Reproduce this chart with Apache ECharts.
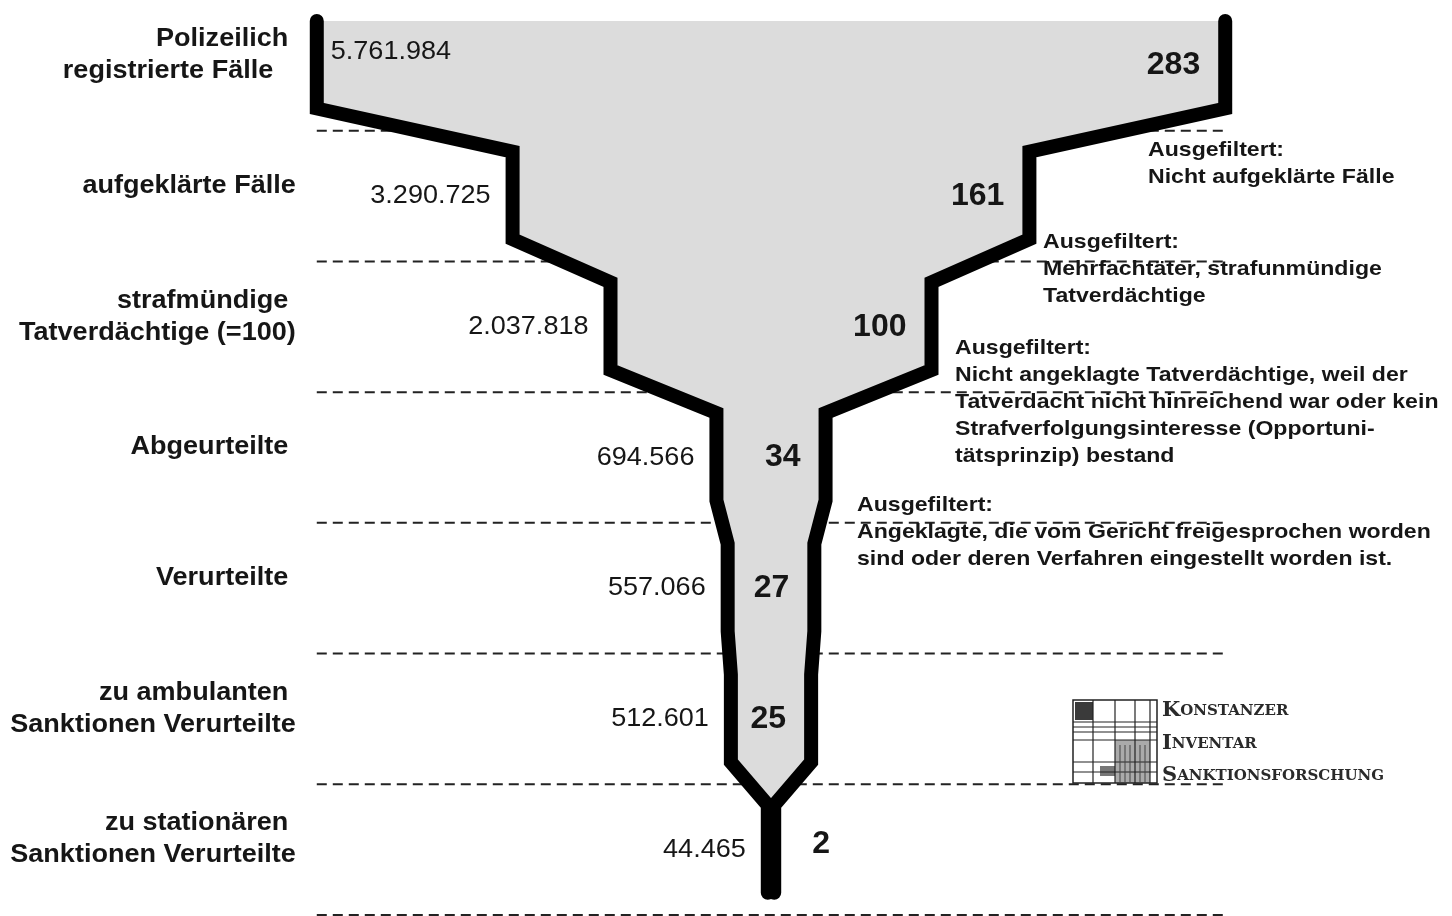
<!DOCTYPE html>
<html lang="de">
<head>
<meta charset="UTF-8">
<title>Trichter der Strafverfolgung</title>
<style>
  html, body { margin: 0; padding: 0; background: #fff; }
  #main { width: 1452px; height: 916px; }
</style>
</head>
<body>
<div id="main"></div>
<script src="https://cdn.jsdelivr.net/npm/echarts@6/dist/echarts.min.js"></script>
<script>
// Stufen des Trichters (von oben nach unten)
var stufen = [
  'Polizeilich \nregistrierte Fälle   ',
  'aufgeklärte Fälle',
  'strafmündige \nTatverdächtige (=100)',
  'Abgeurteilte ',
  'Verurteilte ',
  'zu ambulanten \nSanktionen Verurteilte',
  'zu stationären \nSanktionen Verurteilte'
];
// absolute Zahlen
var absolut = ['5.761.984', '3.290.725', '2.037.818', '694.566', '557.066', '512.601', '44.465'];
// Index (strafmündige Tatverdächtige = 100)
var indexWerte = [283, 161, 100, 34, 27, 25, 2];
// Texte rechts neben den Übergängen
var ausgefiltert = [
  'Nicht aufgeklärte Fälle',
  'Mehrfachtäter, strafunmündige\nTatverdächtige',
  'Nicht angeklagte Tatverdächtige, weil der\nTatverdacht nicht hinreichend war oder kein\nStrafverfolgungsinteresse (Opportuni-\ntätsprinzip) bestand',
  'Angeklagte, die vom Gericht freigesprochen worden\nsind oder deren Verfahren eingestellt worden ist.'
];

var OBEN = 0.16, UNTEN = 0.83;   // Anteil der Stufe, in dem die Wand senkrecht läuft
var schrift = '"Liberation Sans", Arial, sans-serif';
var textFarbe = '#161616';

var chart = echarts.init(document.getElementById('main'));

function trichter(params, api) {
  var links = [], rechts = [];
  for (var i = 0; i < indexWerte.length; i++) {
    var v = indexWerte[i];
    links.push(api.coord([-v, i + OBEN]), api.coord([-v, i + UNTEN]));
    rechts.push(api.coord([v, i + OBEN]), api.coord([v, i + UNTEN]));
  }
  var umriss = links.concat(rechts.slice().reverse());
  var wand = { stroke: '#000', lineWidth: 14, fill: null, lineJoin: 'miter', lineCap: 'round' };
  // zwei Wände statt einer geschlossenen Linie -> runde Enden oben und unten
  return {
    type: 'group',
    children: [
      { type: 'polygon', shape: { points: umriss }, style: { fill: '#dcdcdc' }, z2: 1 },
      { type: 'polyline', shape: { points: links }, style: wand, z2: 2 },
      { type: 'polyline', shape: { points: rechts }, style: wand, z2: 2 }
    ]
  };
}

function trennlinie(params, api) {
  var b = params.dataIndex + 1;
  var a = api.coord([-indexWerte[0], b]);
  var e = api.coord([indexWerte[0], b]);
  return {
    type: 'line',
    shape: { x1: a[0], y1: a[1], x2: e[0], y2: e[1] },
    style: { stroke: '#222', lineWidth: 2, lineDash: [10, 6] }
  };
}

function beschriftung(params, api) {
  var i = params.dataIndex;
  var v = indexWerte[i];
  var rand = api.coord([-indexWerte[0], i + 0.42]);
  var li = api.coord([-v, i + 0.5]);
  var re = api.coord([v, i + (v < 10 ? 0.46 : 0.5)]);
  var kids = [];
  kids.push({
    type: 'text', x: rand[0] - 21, y: rand[1], scaleX: 1.04,
    style: { text: stufen[i], align: 'right', verticalAlign: 'middle', lineHeight: 32,
      font: 'bold 26px ' + schrift, fill: textFarbe }
  });
  if (i === 0) {
    var innen = api.coord([-v, i + 0.4]);
    kids.push({
      type: 'text', x: innen[0] + 14, y: innen[1], scaleX: 1.04,
      style: { text: absolut[i], align: 'left', verticalAlign: 'middle', font: '26px ' + schrift, fill: textFarbe }
    });
  } else {
    kids.push({
      type: 'text', x: li[0] - 22, y: li[1], scaleX: 1.04,
      style: { text: absolut[i], align: 'right', verticalAlign: 'middle', font: '26px ' + schrift, fill: textFarbe }
    });
  }
  kids.push({
    type: 'text', x: v < 10 ? re[0] + 38 : re[0] - 25, y: re[1],
    style: { text: String(v), align: v < 10 ? 'left' : 'right', verticalAlign: 'middle',
      font: 'bold 32px ' + schrift, fill: textFarbe }
  });
  return { type: 'group', children: kids };
}

// Textblöcke "Ausgefiltert"
var blockPos = [[1148, 137], [1043, 229], [955, 335], [857, 492]];
var graphics = ausgefiltert.map(function (t, k) {
  return {
    type: 'text', x: blockPos[k][0], y: blockPos[k][1], scaleX: 1.1, z: 5,
    style: { text: 'Ausgefiltert:\n' + t, fill: textFarbe, font: 'bold 21px ' + schrift,
      lineHeight: 27, verticalAlign: 'top', align: 'left' }
  };
});

// Logo
var logoKinder = [
  { type: 'rect', shape: { x: 2, y: 2, width: 18, height: 18 }, style: { fill: '#3a3a3a' } },
  { type: 'rect', shape: { x: 42, y: 40, width: 35, height: 43 }, style: { fill: '#aaa' } },
  { type: 'rect', shape: { x: 27, y: 66, width: 15, height: 10 }, style: { fill: '#777' } },
  { type: 'rect', shape: { x: 0, y: 0, width: 84, height: 83 }, style: { fill: null, stroke: '#222', lineWidth: 1.5 } }
];
[20, 42, 62, 77].forEach(function (x) {
  logoKinder.push({ type: 'line', shape: { x1: x, y1: 0, x2: x, y2: 83 }, style: { stroke: '#222', lineWidth: 1.2 } });
});
[22, 27, 32, 40, 62, 72].forEach(function (y) {
  logoKinder.push({ type: 'line', shape: { x1: 0, y1: y, x2: 84, y2: y }, style: { stroke: '#222', lineWidth: 1.2 } });
});
[47, 52, 57, 67, 72].forEach(function (x) {
  logoKinder.push({ type: 'line', shape: { x1: x, y1: 45, x2: x, y2: 83 }, style: { stroke: '#444', lineWidth: 1 } });
});
graphics.push({ type: 'group', x: 1073, y: 700, z: 5, children: logoKinder });

var logoRich = {
  g: { fontFamily: '"DejaVu Serif", serif', fontWeight: 'bold', fontSize: 21, fill: '#2a2a2a' },
  k: { fontFamily: '"DejaVu Serif", serif', fontWeight: 'bold', fontSize: 15, fill: '#2a2a2a' }
};
[['K', 'ONSTANZER', 711], ['I', 'NVENTAR', 744], ['S', 'ANKTIONSFORSCHUNG', 776]].forEach(function (z) {
  graphics.push({
    type: 'text', x: 1162, y: z[2], z: 5,
    style: { text: '{g|' + z[0] + '}{k|' + z[1] + '}', rich: logoRich, verticalAlign: 'middle', align: 'left' }
  });
});

chart.setOption({
  animation: false,
  backgroundColor: '#fff',
  grid: { left: 289.5, width: 963, top: -4, height: 919 },
  xAxis: { type: 'value', min: -300, max: 300, show: false },
  yAxis: { type: 'value', min: 0, max: 7, inverse: true, show: false },
  graphic: graphics,
  series: [
    { type: 'custom', name: 'Trennlinien', renderItem: trennlinie, z: 1, silent: true,
      data: indexWerte.map(function (v, i) { return [0, i + 1]; }) },
    { type: 'custom', name: 'Trichter', renderItem: trichter, z: 2, silent: true, clip: false,
      data: [[0, 0]] },
    { type: 'custom', name: 'Beschriftung', renderItem: beschriftung, z: 3, silent: true, clip: false,
      data: indexWerte.map(function (v, i) { return [v, i]; }) }
  ]
});
</script>
</body>
</html>
